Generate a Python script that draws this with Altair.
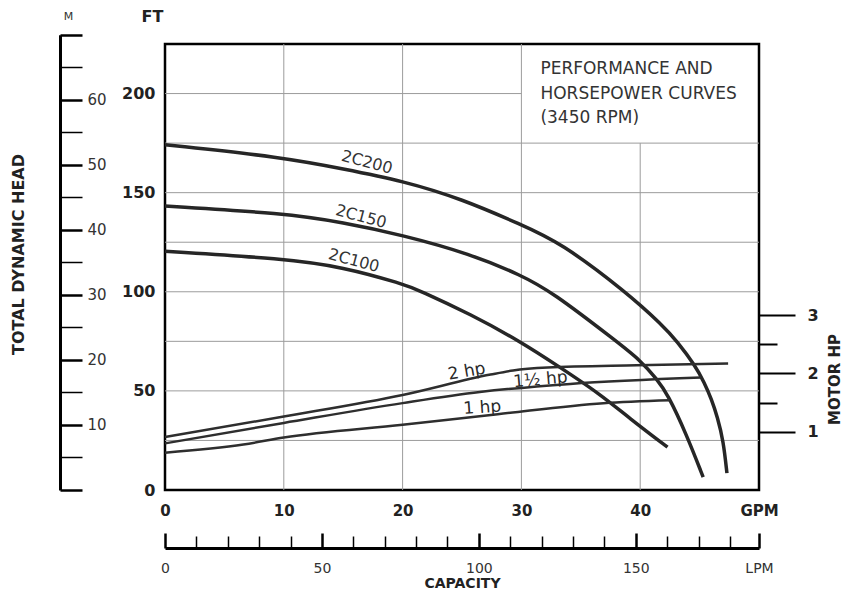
import altair as alt
import pandas as pd

# ---------------- data ----------------
GPM_MAX = 50
FT_MAX = 225
HP_TOP = 7.65
M_TOP = 70
LPM_PER_GPM = 3.78541
M_PER_FT = 0.3048

GRID_GPM = [10, 20, 30, 40]
GRID_FT = [25, 50, 75, 100, 125, 150, 175, 200]
BOX_GPM = 30
BOX_FT = 175

GPM_2C200 = [0, 10, 15, 20, 25, 30, 33.25, 38.8, 41.9, 43.1, 44.6, 45.4, 46.0, 46.5, 47.0, 47.3]
FT_2C200 = [174.2, 167.8, 162, 156, 146.8, 133.8, 125, 100, 83, 75, 63, 54.2, 45.8, 36.8, 24.8, 8.5]

GPM_2C150 = [0, 10, 15, 20, 25.7, 30, 32.55, 38, 40, 41.4, 42.3, 43.9, 45.3]
FT_2C150 = [143.3, 139.6, 135, 128.6, 119.1, 108.3, 100, 75, 65.5, 56, 48.5, 28, 6.5]

GPM_2C100 = [0, 10, 15, 20, 21.5, 25.7, 29.9, 33.1, 36.6, 39.1, 42.3]
FT_2C100 = [120.5, 116.7, 112.5, 104, 100.5, 88.7, 75, 62.5, 48.5, 36.2, 21.6]

GPM_HP2 = [0, 10, 20, 27.4, 29.3, 32.2, 39.7, 47.4]
HP_HP2 = [0.91, 1.26, 1.63, 1.98, 2.05, 2.10, 2.14, 2.17]

GPM_HP15 = [0, 10, 20, 26.5, 34.1, 45.1]
HP_HP15 = [0.80, 1.15, 1.49, 1.68, 1.82, 1.93]

GPM_HP1 = [0, 6.6, 10, 20, 28, 36.9, 42.5]
HP_HP1 = [0.64, 0.78, 0.90, 1.12, 1.30, 1.49, 1.54]

HEAD_LABELS = ["2C200", "2C150", "2C100"]
HEAD_LABEL_GPM = [17.0, 16.5, 15.9]
HEAD_LABEL_FT = [165.3, 137.9, 115.7]

HP_LABELS = ["2 hp", "1½ hp", "1 hp"]
HP_LABEL_GPM = [25.4, 31.6, 26.7]
HP_LABEL_HP = [2.03, 1.89, 1.41]

BOX_TEXT = ["PERFORMANCE AND", "HORSEPOWER CURVES", "(3450 RPM)"]
BOX_TEXT_GPM = [31.6, 31.6, 31.6]
BOX_TEXT_FT = [212.6, 200.0, 187.8]

GPM_TICKS = [0, 10, 20, 30, 40, 50]
FT_LABELS = [0, 50, 100, 150, 200]
HP_TICKS = [1, 1.5, 2, 2.5, 3]
M_TICKS = list(range(0, 71, 5))
LPM_TICKS = list(range(0, 181, 10)) + [GPM_MAX * LPM_PER_GPM]

# ---------------- layout ----------------
W, H = 594, 446
TOP = 36
FONT = "DejaVu Sans"
INK = "#222222"

# ---------------- tables ----------------
grid_rows = []
for g in GRID_GPM:
    grid_rows.append({"gpm": g, "gpm2": g, "ft": 0, "ft2": BOX_FT if g > BOX_GPM else FT_MAX})
for f in GRID_FT:
    grid_rows.append({"gpm": 0, "gpm2": BOX_GPM if f > BOX_FT else GPM_MAX, "ft": f, "ft2": f})
grid_df = pd.DataFrame(grid_rows)

head_df = pd.concat([
    pd.DataFrame({"model": "2C200", "gpm": GPM_2C200, "ft": FT_2C200}),
    pd.DataFrame({"model": "2C150", "gpm": GPM_2C150, "ft": FT_2C150}),
    pd.DataFrame({"model": "2C100", "gpm": GPM_2C100, "ft": FT_2C100}),
])
head_lab_df = pd.DataFrame({"label": HEAD_LABELS, "gpm": HEAD_LABEL_GPM, "ft": HEAD_LABEL_FT})
box_df = pd.DataFrame({"label": BOX_TEXT, "gpm": BOX_TEXT_GPM, "ft": BOX_TEXT_FT})

hp_df = pd.concat([
    pd.DataFrame({"motor": "2", "gpm": GPM_HP2, "hp": HP_HP2}),
    pd.DataFrame({"motor": "1.5", "gpm": GPM_HP15, "hp": HP_HP15}),
    pd.DataFrame({"motor": "1", "gpm": GPM_HP1, "hp": HP_HP1}),
])
hp_lab_df = pd.DataFrame({"label": HP_LABELS, "gpm": HP_LABEL_GPM, "hp": HP_LABEL_HP})

dummy_df = pd.DataFrame({"lpm": [0, GPM_MAX * LPM_PER_GPM], "m": [0, M_TOP]})

# ---------------- scales & axes ----------------
XS = alt.Scale(domain=[0, GPM_MAX], nice=False, zero=False)
YS = alt.Scale(domain=[0, FT_MAX], nice=False, zero=False)
HPS = alt.Scale(domain=[0, HP_TOP], nice=False, zero=False)
LPMS = alt.Scale(domain=[0, GPM_MAX * LPM_PER_GPM], nice=False, zero=False)
m_top_px = H - M_TOP / M_PER_FT * (H / FT_MAX)
MS = alt.Scale(domain=[0, M_TOP], range=[H, m_top_px], nice=False, zero=False)

GPM_AXIS = alt.Axis(
    values=GPM_TICKS, labelExpr="datum.value == 50 ? 'GPM' : datum.label",
    grid=False, ticks=False, domain=False, labelFontSize=15, labelFontWeight="bold",
    labelColor=INK, labelPadding=13, labelFlush=False, labelOverlap=False, labelFont=FONT,
    title="CAPACITY", titleX=297, titleY=93, titleFontSize=14, titleFontWeight="bold",
    titleAlign="center", titleBaseline="middle", titleColor=INK, titleFont=FONT,
)
FT_AXIS = alt.Axis(
    values=FT_LABELS, grid=False, ticks=False, domain=False, labelFontSize=16,
    labelFontWeight="bold", labelColor=INK, labelPadding=10, labelOverlap=False,
    labelFlush=False, labelFont=FONT,
    title="TOTAL DYNAMIC HEAD", titleAngle=270, titleX=-147, titleY=254 - 8 - TOP,
    titleFontSize=16, titleFontWeight="bold", titleAlign="center", titleBaseline="middle",
    titleColor=INK, titleFont=FONT,
)
HP_AXIS = alt.Axis(
    orient="right", values=HP_TICKS, labelExpr="datum.value % 1 == 0 ? datum.label : ''",
    grid=False, domain=False, tickColor="black", tickWidth=2,
    tickSize={"condition": {"test": "datum.value % 1 == 0", "value": 36}, "value": 18},
    labelFontSize=16, labelFontWeight="bold", labelColor=INK, labelPadding=12,
    labelAlign="left", labelBaseline="middle", labelOverlap=False, labelFont=FONT,
    title="MOTOR HP", titleAngle=270, titleX=75, titleY=379 - 8 - TOP, titleFontSize=15,
    titleFontWeight="bold", titleAlign="center", titleBaseline="middle", titleColor=INK,
    titleFont=FONT,
)
FT_TITLE_AXIS = alt.Axis(
    orient="top", domain=False, ticks=False, labels=False, grid=False,
    title="FT", titleX=-13, titleY=16 - 8 - TOP, titleAngle=0, titleFontSize=16,
    titleFontWeight="bold", titleAlign="center", titleBaseline="middle", titleColor=INK,
    titleFont=FONT,
)
M_AXIS = alt.Axis(
    orient="right", offset=-(W + 105), values=M_TICKS,
    labelExpr="(datum.value % 10 == 0 && datum.value > 0 && datum.value < 70) ? datum.label : ''",
    grid=False, domain=True, domainColor="black", domainWidth=3, tickColor="black",
    tickSize=22,
    tickWidth={"condition": {"test": "datum.value % 10 == 0", "value": 2.5}, "value": 1.5},
    labelFontSize=15, labelColor="#333333", labelPadding=5, labelAlign="left",
    labelBaseline="middle", labelOverlap=False, labelFlush=False, labelFont=FONT,
    title="M", titleX=8, titleY=16 - 8 - TOP, titleAngle=0, titleFontSize=11,
    titleFontWeight="normal", titleAlign="center", titleBaseline="middle",
    titleColor="#333333", titleFont=FONT,
)
MAJOR_LPM = "datum.value % 50 == 0 || datum.value > 185"
LPM_AXIS = alt.Axis(
    orient="top", offset=-(548 - 8 - TOP), values=LPM_TICKS,
    labelExpr="datum.value > 185 ? 'LPM' : (datum.value % 50 == 0 ? datum.label : '')",
    grid=False, domain=True, domainColor="black", domainWidth=3, tickColor="black",
    tickSize={"condition": {"test": MAJOR_LPM, "value": 15}, "value": 12},
    tickWidth={"condition": {"test": MAJOR_LPM, "value": 2.5}, "value": 1.5},
    labelBaseline="top", labelPadding=-28, labelFontSize=14, labelColor="#333333",
    labelOverlap=False, labelFlush=False, labelAlign="center", labelFont=FONT,
    title=None,
)

# ---------------- layer A: head (FT) ----------------
xa = alt.X("gpm:Q", scale=XS, axis=GPM_AXIS)
ya = alt.Y("ft:Q", scale=YS, axis=FT_AXIS)

grid = alt.Chart(grid_df).mark_rule(color="#9c9c9c", strokeWidth=1).encode(
    x=xa, x2="gpm2:Q", y=ya, y2="ft2:Q")
heads = alt.Chart(head_df).mark_line(
    color="#262626", strokeWidth=3.5, interpolate="basis").encode(
    x=xa, y=ya, detail="model:N")
head_labels = alt.Chart(head_lab_df).mark_text(
    angle=15, fontSize=16, color="#333333", font=FONT, align="center", baseline="middle"
).encode(x=xa, y=ya, text="label:N")
box_text = alt.Chart(box_df).mark_text(
    align="left", baseline="middle", fontSize=17, color="#333333", font=FONT
).encode(x=xa, y=ya, text="label:N")
layer_a = alt.layer(grid, heads, head_labels, box_text)

# ---------------- layer B: horsepower ----------------
xb = alt.X("gpm:Q", scale=XS, axis=FT_TITLE_AXIS)
yb = alt.Y("hp:Q", scale=HPS, axis=HP_AXIS)
hp_lines = alt.Chart(hp_df).mark_line(
    color="#2e2e2e", strokeWidth=2.5, interpolate="monotone").encode(
    x=xb, y=yb, detail="motor:N")
hp_label_layers = []
for i, ang in enumerate([350, 355, 356]):
    hp_label_layers.append(
        alt.Chart(hp_lab_df.iloc[[i]]).mark_text(
            angle=ang, fontSize=17, color="#2a2a2a", font=FONT, align="center",
            baseline="middle").encode(x=xb, y=yb, text="label:N"))
layer_b = alt.layer(hp_lines, *hp_label_layers)

# ---------------- layer C: metric axes ----------------
layer_c = alt.Chart(dummy_df).mark_point(opacity=0).encode(
    x=alt.X("lpm:Q", scale=LPMS, axis=LPM_AXIS),
    y=alt.Y("m:Q", scale=MS, axis=M_AXIS),
)

chart = alt.layer(layer_a, layer_b, layer_c).resolve_scale(
    x="independent", y="independent"
).properties(
    width=W, height=H,
    padding={"left": 157, "top": TOP, "right": 84, "bottom": 100},
    autosize=alt.AutoSizeParams(type="none"),
    background="white",
).configure(font=FONT).configure_view(stroke="black", strokeWidth=2.5)

chart.save("out.html", embed_options={"renderer": "svg", "actions": False})
